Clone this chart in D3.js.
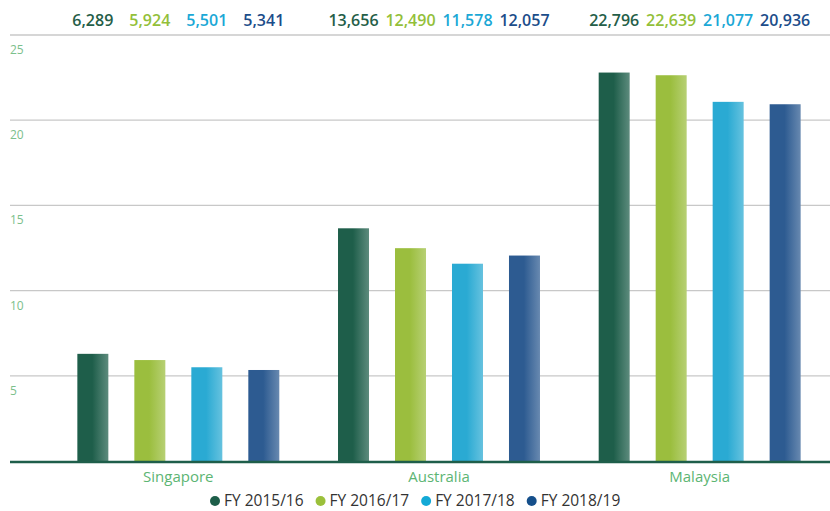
<!DOCTYPE html>
<html>
<head>
<meta charset="utf-8">
<script src="https://cdn.jsdelivr.net/npm/d3@7"></script>
<style>
  body { margin: 0; background: #fff; }
  svg { display: block; font-family: "Open Sans", sans-serif; }
</style>
</head>
<body>
<svg width="830" height="511"></svg>
<script>
// data (thousands)
let countries = ["Singapore", "Australia", "Malaysia"];
let years = ["FY 2015/16", "FY 2016/17", "FY 2017/18", "FY 2018/19"];
let fy1516 = [6289, 13656, 22796];
let fy1617 = [5924, 12490, 22639];
let fy1718 = [5501, 11578, 21077];
let fy1819 = [5341, 12057, 20936];
let yTicks = [5, 10, 15, 20, 25];

let barColors = ["#1e5e4a", "#9bbe3e", "#2aaad3", "#2d5b91"];
let labelColors = ["#255e48", "#93bf3a", "#1ba8d6", "#1c4d8a"];
let legendColors = ["#1d5e49", "#9bc03b", "#13a9d6", "#154f8b"];

let series = [fy1516, fy1617, fy1718, fy1819];

let svg = d3.select("svg");
let defs = svg.append("defs");

// right half of each bar fades lighter
barColors.forEach((c, i) => {
  let g = defs.append("linearGradient").attr("id", "grad" + i)
    .attr("x1", "0%").attr("x2", "100%").attr("y1", "0%").attr("y2", "0%");
  g.append("stop").attr("offset", "0%").attr("stop-color", c);
  g.append("stop").attr("offset", "48%").attr("stop-color", c);
  g.append("stop").attr("offset", "100%").attr("stop-color", d3.interpolateRgb(c, "#ffffff")(0.28));
});

let yScale = d3.scaleLinear().domain([0, 25]).range([461, 35]);
let x0 = d3.scaleBand().domain(countries).range([48, 830]);
let x1 = d3.scaleBand().domain(years).range([0, x0.bandwidth()])
  .paddingInner(0.456).paddingOuter(0.515);

// grid
svg.append("g").selectAll("line")
  .data(yTicks).enter().append("line")
  .attr("x1", 10).attr("x2", 830)
  .attr("y1", d => yScale(d)).attr("y2", d => yScale(d))
  .attr("stroke", "#c8c8c8").attr("stroke-width", 1.3);

svg.append("g").selectAll("text")
  .data(yTicks).enter().append("text")
  .attr("x", 10).attr("y", d => yScale(d) + 19)
  .attr("fill", "#7cc08c").attr("font-size", 12)
  .text(d => d);

// bars
let groups = svg.append("g").selectAll("g")
  .data(countries).enter().append("g")
  .attr("transform", d => "translate(" + x0(d) + ",0)");

groups.selectAll("rect")
  .data((d, ci) => years.map((y, si) => ({ year: y, si: si, v: series[si][ci] / 1000 })))
  .enter().append("rect")
  .attr("x", d => x1(d.year))
  .attr("width", x1.bandwidth())
  .attr("y", d => yScale(d.v))
  .attr("height", d => yScale(0) - yScale(d.v))
  .attr("fill", d => "url(#grad" + d.si + ")");

// value labels on top
groups.selectAll("text.val")
  .data((d, ci) => years.map((y, si) => ({ year: y, si: si, v: series[si][ci] })))
  .enter().append("text")
  .attr("class", "val")
  .attr("x", d => x1(d.year) + x1.bandwidth() / 2)
  .attr("y", 26)
  .attr("text-anchor", "middle")
  .attr("font-size", 16).attr("font-weight", 600)
  .attr("fill", d => labelColors[d.si])
  .text(d => d3.format(",")(d.v));

// baseline
svg.append("line")
  .attr("x1", 10).attr("x2", 830).attr("y1", yScale(0) + 1).attr("y2", yScale(0) + 1)
  .attr("stroke", "#1e5e4a").attr("stroke-width", 2.5);

// category labels
svg.append("g").selectAll("text")
  .data(countries).enter().append("text")
  .attr("x", d => x0(d) + x0.bandwidth() / 2)
  .attr("y", 482)
  .attr("text-anchor", "middle")
  .attr("font-size", 15).attr("fill", "#5cb573")
  .text(d => d);

// legend
let legend = svg.append("g");
let lx = 0;
years.forEach((y, i) => {
  let item = legend.append("g").attr("transform", "translate(" + lx + ",0)");
  item.append("circle").attr("cx", 5).attr("cy", 0).attr("r", 5).attr("fill", legendColors[i]);
  let t = item.append("text").attr("x", 14).attr("y", 5)
    .attr("font-size", 15.5).attr("fill", "#333").text(y);
  lx += 14 + t.node().getComputedTextLength() + 12;
});
legend.attr("transform", "translate(" + (210) + ",501)");
</script>
</body>
</html>
